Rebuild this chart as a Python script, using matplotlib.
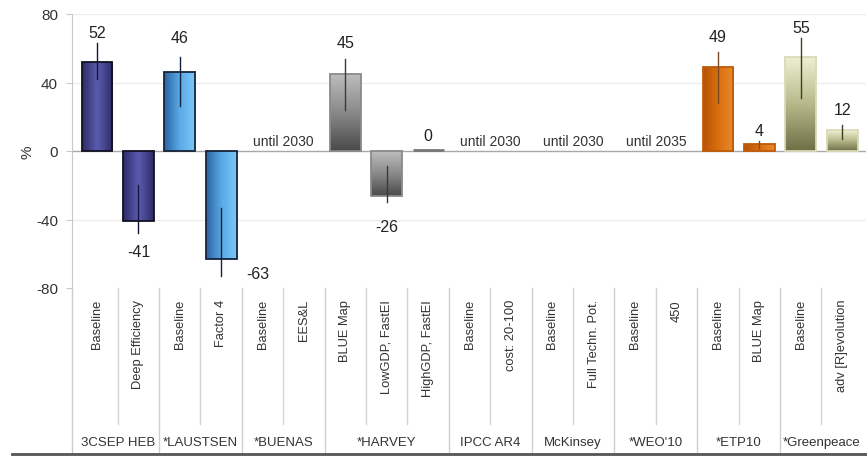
import numpy as np
import matplotlib
matplotlib.use("Agg")
import matplotlib.pyplot as plt
from matplotlib.transforms import blended_transform_factory
from matplotlib.colors import LinearSegmentedColormap
from matplotlib.lines import Line2D

plt.rcParams['font.family'] = ['Liberation Sans', 'DejaVu Sans']

# ---------------- data ----------------
categories = ["Baseline", "Deep Efficiency", "Baseline", "Factor 4", "Baseline", "EES&L",
              "BLUE Map", "LowGDP, FastEI", "HighGDP, FastEI", "Baseline", "cost: 20-100",
              "Baseline", "Full Techn. Pot.", "Baseline", "450", "Baseline", "BLUE Map",
              "Baseline", "adv [R]evolution"]
groups = ["3CSEP HEB", "*LAUSTSEN", "*BUENAS", "*HARVEY", "IPCC AR4", "McKinsey",
          "*WEO'10", "*ETP10", "*Greenpeace"]
group_sizes = [2, 2, 2, 3, 2, 2, 2, 2, 2]
values = [52, -41, 46, -63, np.nan, np.nan, 45, -26, 0, np.nan, np.nan, np.nan, np.nan,
          np.nan, np.nan, 49, 4, 55, 12]
range_low = [42, -20, 26, -33, np.nan, np.nan, 24, -9, 0, np.nan, np.nan, np.nan, np.nan,
             np.nan, np.nan, 28, 2, 31, 7]
range_high = [63, -48, 55, -73, np.nan, np.nan, 54, -30, 0, np.nan, np.nan, np.nan, np.nan,
              np.nan, np.nan, 58, 6, 66, 15]
value_labels = ["52", "-41", "46", "-63", "", "", "45", "-26", "0", "", "", "", "", "",
                "", "49", "4", "55", "12"]
notes = ["until 2030", "until 2030", "until 2030", "until 2035"]
note_slots = [(4, 5), (9, 10), (11, 12), (13, 14)]
y_ticks = [80, 40, 0, -40, -80]

# ---------------- styles ----------------
group_styles = {
    "3CSEP HEB": dict(cmap=["#2e2b66", "#5b5bb0", "#2e2b66"], dir="h", edge="#111122", err="#15153a"),
    "*LAUSTSEN": dict(cmap=["#2a64a0", "#5aa8e6", "#78c8f8"], dir="h", edge="#16233a", err="#14243e"),
    "*BUENAS": dict(cmap=["#888888", "#bbbbbb"], dir="v", edge="none", err="#444444"),
    "*HARVEY": dict(cmap=["#4a4a4a", "#8a8a8a", "#bdbdbd"], dir="v", edge="#8a8a8a", err="#3a3a3a"),
    "IPCC AR4": dict(cmap=["#888888", "#bbbbbb"], dir="v", edge="none", err="#444444"),
    "McKinsey": dict(cmap=["#888888", "#bbbbbb"], dir="v", edge="none", err="#444444"),
    "*WEO'10": dict(cmap=["#888888", "#bbbbbb"], dir="v", edge="none", err="#444444"),
    "*ETP10": dict(cmap=["#b85206", "#d9700e", "#e88a2c"], dir="h", edge="#c05a08", err="#7a4a28"),
    "*Greenpeace": dict(cmap=["#6f7046", "#b8ba8c", "#eef0d2"], dir="v", edge="#d8dab8", err="#3e3f26"),
}
# label offsets in pixels from range end (dx, dy)
label_offsets = [(0, 11), (0, -18), (0, 19), (37, 3), (0, 0), (0, 0), (0, 16), (0, -24),
                 (0, 15), (0, 0), (0, 0), (0, 0), (0, 0), (0, 0), (0, 0), (0, 15), (0, 10),
                 (0, 10), (0, 16)]

W, H = 867, 460
fig = plt.figure(figsize=(W / 100, H / 100), dpi=100)
fig.patch.set_facecolor("white")

ax_left_px, ax_right_px = 72, 866
ax_top_px, ax_bot_px = 15, 289
ax = fig.add_axes([ax_left_px / W, 1 - ax_bot_px / H,
                   (ax_right_px - ax_left_px) / W, (ax_bot_px - ax_top_px) / H])

n = len(categories)
x = np.arange(n)
slot_px = 41.4
x0 = -(97 - ax_left_px) / slot_px
x1 = x0 + (ax_right_px - ax_left_px) / slot_px
ax.set_xlim(x0, x1)
ax.set_ylim(-80, 80)

group_of = []
for g, s in zip(groups, group_sizes):
    group_of += [g] * s

# grid and zero line
for yv in [80, 40, -40]:
    ax.axhline(yv, color="#ececec", lw=0.9, zorder=0)
ax.axhline(0, color="#a8a8a8", lw=1.0, zorder=1)

vals = np.array(values, dtype=float)
bar_w = 0.74
plot_vals = np.where(np.isnan(vals), 0, vals)
bars = ax.bar(x, plot_vals, width=bar_w, color="none", edgecolor="none", zorder=3)

for i, b in enumerate(bars):
    if np.isnan(vals[i]):
        b.set_visible(False)
        continue
    st = group_styles[group_of[i]]
    bx, by = b.get_x(), b.get_y()
    bw, bh = b.get_width(), b.get_height()
    ylo, yhi = min(by, by + bh), max(by, by + bh)
    if vals[i] == 0:
        ax.plot([bx, bx + bw], [0.6, 0.6], color="#777777", lw=2.0, zorder=4, solid_capstyle="butt")
        continue
    cmap = LinearSegmentedColormap.from_list("g%d" % i, st["cmap"])
    if st["dir"] == "h":
        grad = np.linspace(0, 1, 64).reshape(1, -1)
    else:
        grad = np.linspace(1, 0, 64).reshape(-1, 1)
    im = ax.imshow(grad, cmap=cmap, extent=(bx, bx + bw, ylo, yhi), aspect="auto",
                   origin="upper", zorder=3, interpolation="bilinear")
    im.set_clip_path(b)
    b.set_edgecolor(st["edge"])
    b.set_linewidth(1.3 if st["edge"] != "none" else 0)
    b.set_zorder(4)
    # range line
    ax.plot([i, i], [range_low[i], range_high[i]], color=st["err"], lw=1.0, zorder=5)

ax.set_xlim(x0, x1)
ax.set_ylim(-80, 80)

# value labels
for i, lab in enumerate(value_labels):
    if not lab:
        continue
    dx, dy = label_offsets[i]
    ax.annotate(lab, (i, range_high[i]), xytext=(dx, dy), textcoords="offset pixels",
                ha="center", va="center", fontsize=11.5, color="#222222", zorder=6)

# notes
for txt, (a, b2) in zip(notes, note_slots):
    ax.text((a + b2) / 2, 1.8, txt, ha="center", va="bottom", fontsize=10, color="#333333")

# axes styling
for s in ["top", "right", "bottom"]:
    ax.spines[s].set_visible(False)
ax.spines["left"].set_color("#c8c8c8")
ax.set_xticks([])
ax.set_yticks(y_ticks)
ax.set_yticklabels([str(t) for t in y_ticks], fontsize=11, color="#333333")
ax.tick_params(axis="y", length=4, color="#c8c8c8", pad=6)
ax.set_ylabel("%", fontsize=11, color="#333333", labelpad=1)
ax.set_facecolor("white")

# lower category table
tr = blended_transform_factory(ax.transData, fig.transFigure)
def fy(px):
    return 1 - px / H

# left line continuing down
fig.add_artist(Line2D([ax_left_px / W] * 2, [fy(ax_bot_px), fy(455)], color="#cccccc", lw=1.0))

boundaries = np.cumsum(group_sizes)
for i in range(n):
    ax.text(i, fy(300), categories[i], rotation=90, ha="center", va="top",
            fontsize=9.3, color="#333333", transform=tr)
for k in range(1, n + 1):
    xb = k - 0.5
    if k == n:
        continue
    if k in boundaries:
        y_end = 455
        col = "#cfcfcf"
    else:
        y_end = 425
        col = "#d4d4d4"
    ax.add_line(Line2D([xb, xb], [fy(ax_bot_px), fy(y_end)], color=col, lw=1.0,
                       transform=tr, clip_on=False))

start = 0
for g, s in zip(groups, group_sizes):
    center = start + (s - 1) / 2
    ax.text(center, fy(443), g, ha="center", va="center", fontsize=9.5, color="#333333",
            transform=tr)
    start += s

fig.add_artist(Line2D([12 / W, 1.0], [fy(455), fy(455)], color="#555555", lw=2.0))

fig.savefig("out.png", dpi=100, facecolor="white")
